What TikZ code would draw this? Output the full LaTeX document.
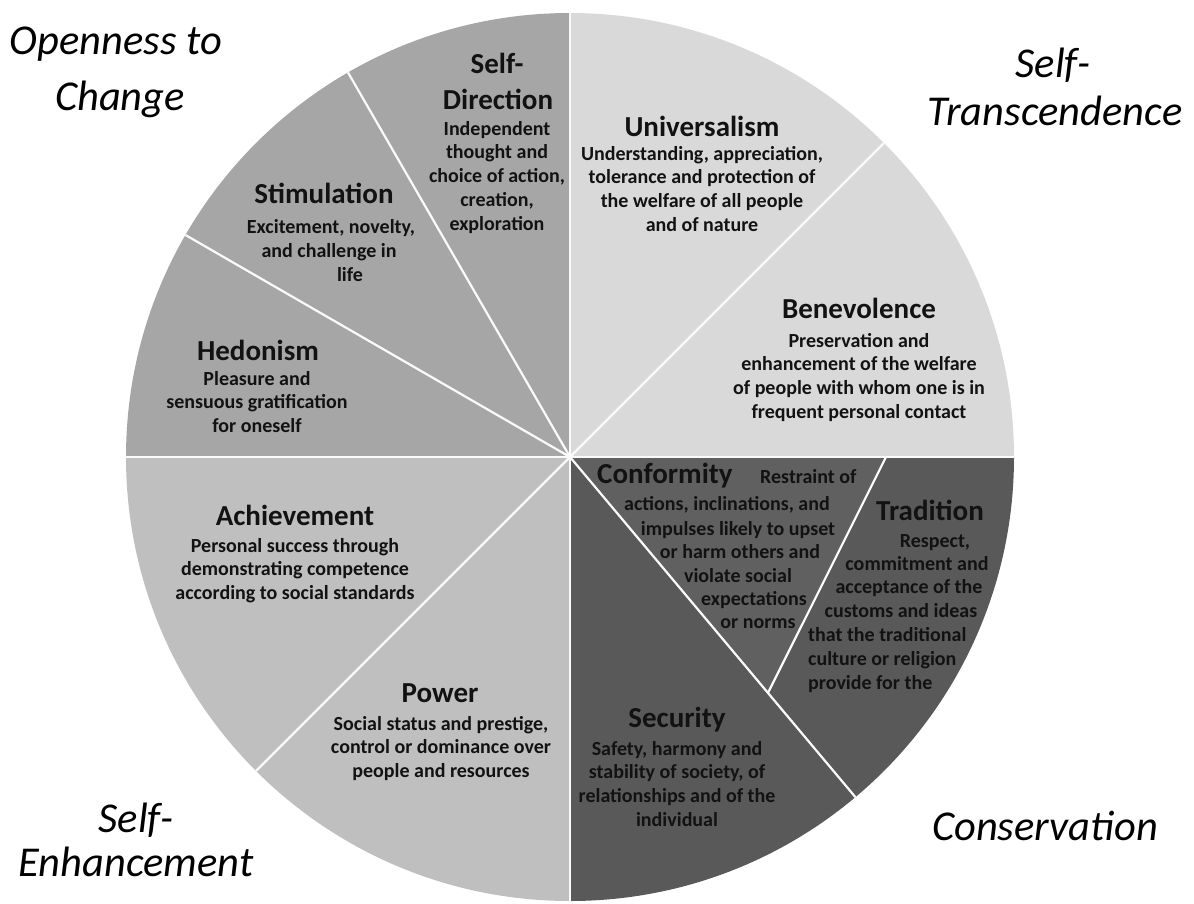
\documentclass[tikz,border=0pt]{standalone}
\usepackage{fontspec}
\setmainfont{Carlito}
\usetikzlibrary{calc}

\definecolor{openc}{HTML}{A6A6A6}
\definecolor{transc}{HTML}{D9D9D9}
\definecolor{enhc}{HTML}{BFBFBF}
\definecolor{consc}{HTML}{595959}
\definecolor{confc}{HTML}{606060}
\definecolor{ink}{HTML}{121212}

\tikzset{
  valtitle/.style={font=\bfseries\fontsize{29}{34}\selectfont, text=ink, inner sep=0pt, anchor=base},
  valdesc/.style={font=\bfseries\fontsize{20}{24}\selectfont, text=ink, inner sep=0pt, anchor=base},
  quadlabel/.style={font=\itshape\fontsize{42.5}{50}\selectfont, text=black, inner sep=0pt, anchor=base},
  divider/.style={draw=white!96!gray, line width=2.2pt},
}

% centred description lines: name, x, first baseline (measured downwards), lines
\newcommand\blocklines[4]{%
  \foreach \thisline [count=\k] in {#4}{%
    \node[valdesc] (#1-\k) at (#2, {-#3-(\k-1)*23.8}) {\thisline};
  }}

\begin{document}
\begin{tikzpicture}[x=1pt, y=1pt]
\useasboundingbox (0,0) rectangle (1194,-903);

% ---- the pie ----
\begin{scope}[shift={(570,-457)}]
  \coordinate (O) at (0,0);
  \def\R{444}
  \fill[openc]  (O) -- (90:\R)  arc[start angle=90,  end angle=180, radius=\R] -- cycle;
  \fill[transc] (O) -- (0:\R)   arc[start angle=0,   end angle=90,  radius=\R] -- cycle;
  \fill[enhc]   (O) -- (180:\R) arc[start angle=180, end angle=270, radius=\R] -- cycle;
  \fill[consc]  (O) -- (270:\R) arc[start angle=270, end angle=360, radius=\R] -- cycle;
  \coordinate (confA) at (316,0);
  \coordinate (confB) at (310:308);
  \fill[confc] (O) -- (confA) -- (confB) -- cycle;
  \foreach \a in {0,45,90,120,150,180,225,270,310}{
    \coordinate (rim\a) at (\a:\R);
    \draw[divider] (O) -- (rim\a);
  }
  \draw[divider] (confA) -- (confB);
\end{scope}

% ---- Openness to Change ----
\node[valtitle] (sd1) at (497,-73) {Self-};
\node[valtitle] (sd2) at (498,-109) {Direction};
\blocklines{sd}{497}{135}{Independent,thought and,{choice of action,},creation{,},exploration}

\node[valtitle] (st) at (324,-203) {Stimulation};
\node[valdesc] (st-1) at (331,-233) {Excitement, novelty,};
\node[valdesc] (st-2) at (329,-257) {and challenge in};
\node[valdesc] (st-3) at (350,-281) {life};

\node[valtitle] (he) at (258,-360) {Hedonism};
\blocklines{he}{257}{385}{Pleasure and,sensuous gratification,for oneself}

% ---- Self-Transcendence ----
\node[valtitle] (un) at (702,-136) {Universalism};
\blocklines{un}{702}{160}{{Understanding, appreciation,},tolerance and protection of,the welfare of all people,and of nature}

\node[valtitle] (be) at (859,-318) {Benevolence};
\blocklines{be}{859}{347}{Preservation and,enhancement of the welfare,of people with whom one is in,frequent personal contact}

% ---- Self-Enhancement ----
\node[valtitle] (ac) at (295,-525) {Achievement};
\blocklines{ac}{295}{552}{Personal success through,demonstrating competence,according to social standards}

\node[valtitle] (po) at (440,-702) {Power};
\blocklines{po}{441}{730}{{Social status and prestige,},control or dominance over,people and resources}

% ---- Conservation ----
\node[valtitle] (se) at (677,-727) {Security};
\blocklines{se}{677}{755}{{Safety, harmony and},{stability of society, of},relationships and of the,individual}

\node[valtitle, anchor=base west] (co) at (597,-483) {Conformity};
\node[valdesc, anchor=base west] (co-0) at (760,-483) {Restraint of};
\node[valdesc] (co-1) at (727,-510) {actions, inclinations, and};
\node[valdesc] (co-2) at (738,-535) {impulses likely to upset};
\node[valdesc] (co-3) at (740,-558) {or harm others and};
\node[valdesc] (co-4) at (738,-582) {violate social};
\node[valdesc] (co-5) at (754,-605) {expectations};
\node[valdesc] (co-6) at (758,-628) {or norms};

\node[valtitle] (tr) at (930,-520) {Tradition};
\node[valdesc] (tr-1) at (935,-547) {Respect,};
\node[valdesc] (tr-2) at (917,-570) {commitment and};
\node[valdesc] (tr-3) at (909,-593) {acceptance of the};
\node[valdesc] (tr-4) at (901,-617) {customs and ideas};
\node[valdesc, anchor=base west] (tr-5) at (808,-641) {that the traditional};
\node[valdesc, anchor=base west] (tr-6) at (808,-665) {culture or religion};
\node[valdesc, anchor=base west] (tr-7) at (808,-689) {provide for the};

% ---- quadrant captions ----
\node[quadlabel] (oc1) at (116,-54) {Openness to};
\node[quadlabel] (oc2) at (120,-110) {Change};
\node[quadlabel] (tc1) at (1053,-77) {Self-};
\node[quadlabel] (tc2) at (1055,-125) {Transcendence};
\node[quadlabel] (ec1) at (136,-832) {Self-};
\node[quadlabel] (ec2) at (136,-876) {Enhancement};
\node[quadlabel] (cs) at (1045,-840) {Conservation};
\end{tikzpicture}
\end{document}
